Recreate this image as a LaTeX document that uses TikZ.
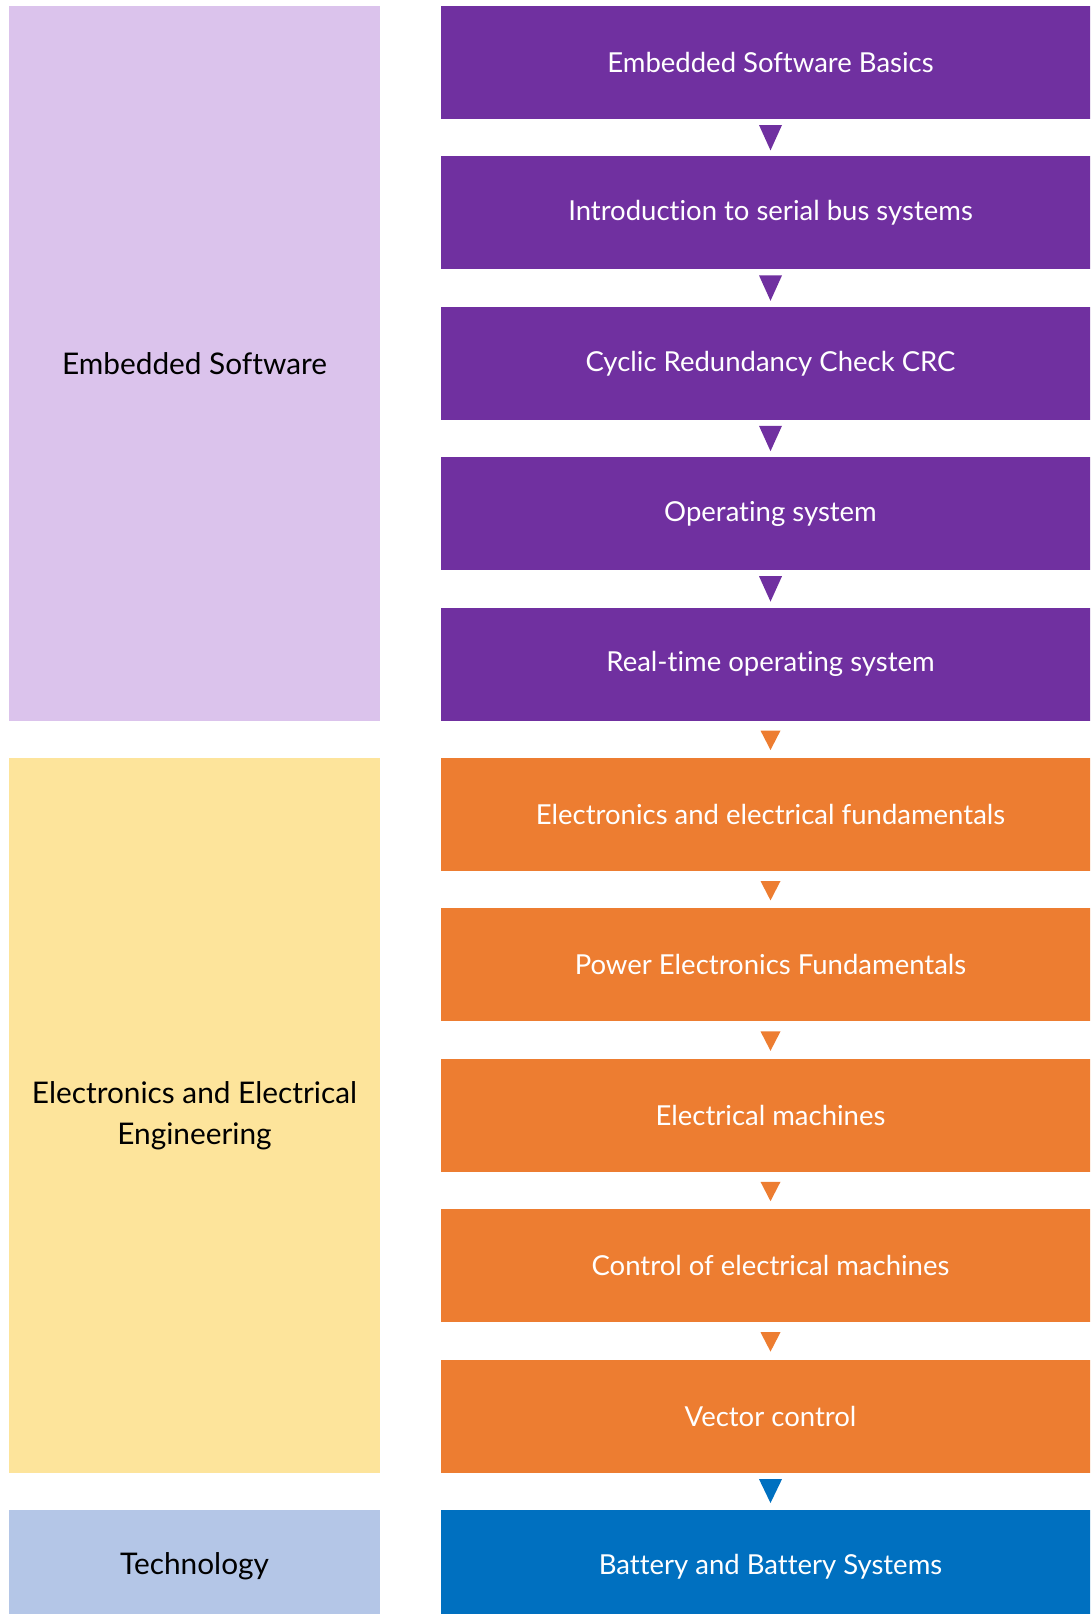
\documentclass[tikz,border=0pt]{standalone}
\usepackage{fontspec}
\setmainfont{Lato}[Ligatures=NoCommon]
\usetikzlibrary{calc}
\definecolor{cPurple}{HTML}{7030A0}
\definecolor{cOrange}{HTML}{ED7D31}
\definecolor{cBlue}{HTML}{0070C0}
\definecolor{cLPurple}{HTML}{DBC3EC}
\definecolor{cLYellow}{HTML}{FDE49B}
\definecolor{cLBlue}{HTML}{B4C6E7}
\tikzset{
  box/.style={draw=none, inner sep=0pt, outer sep=0pt, anchor=north west, align=center},
  rbox/.style={box, fill=#1, text=white, minimum width=659pt, minimum height=113pt,
    font=\fontsize{27.5}{40}\selectfont},
  lbox/.style={box, fill=#1, text=black, minimum width=371pt,
    font=\fontsize{29.8}{41}\selectfont},
}
% triangle connector: colour, half width, gap below source, gap above target, source, target
\newcommand{\tricon}[6]{%
  \fill[#1] ($(#5.south)+(-#2,#3)$) -- ($(#5.south)+(#2,#3)$) -- ($(#6.north)+(0,-#4)$) -- cycle;}
\begin{document}
\begin{tikzpicture}[x=1pt,y=-1pt]
\useasboundingbox (0,0) rectangle (1090,1614);
\clip (0,0) rectangle (1090,1614);
% left category boxes
\node[lbox=cLPurple, minimum height=714.6pt] (L1) at (9,6) {Embedded Software};
\node[lbox=cLYellow, minimum height=714.6pt] (L2) at (9,758) {Electronics and Electrical\\Engineering};
\node[lbox=cLBlue, minimum height=113pt] (L3) at (9,1510) {Technology};
% right course boxes
\node[rbox=cPurple] (b1) at (441,6) {Embedded Software Basics};
\node[rbox=cPurple] (b2) at (441,156.4) {Introduction to serial bus systems};
\node[rbox=cPurple] (b3) at (441,306.8) {Cyclic Redundancy Check CRC};
\node[rbox=cPurple] (b4) at (441,457.2) {Operating system};
\node[rbox=cPurple] (b5) at (441,607.6) {Real-time operating system};
\node[rbox=cOrange] (b6) at (441,758) {Electronics and electrical fundamentals};
\node[rbox=cOrange] (b7) at (441,908.4) {Power Electronics Fundamentals};
\node[rbox=cOrange] (b8) at (441,1058.8) {Electrical machines};
\node[rbox=cOrange] (b9) at (441,1209.2) {Control of electrical machines};
\node[rbox=cOrange] (b10) at (441,1359.6) {Vector control};
\node[rbox=cBlue] (b11) at (441,1510) {Battery and Battery Systems};
% connectors
\foreach \a/\b in {b1/b2,b2/b3,b3/b4,b4/b5}{
  \tricon{cPurple}{11.5}{6}{6}{\a}{\b}
}
\foreach \a/\b in {b5/b6,b6/b7,b7/b8,b8/b9,b9/b10}{
  \tricon{cOrange}{10}{10}{8}{\a}{\b}
}
\tricon{cBlue}{11.5}{6.5}{7}{b10}{b11}
\end{tikzpicture}
\end{document}
